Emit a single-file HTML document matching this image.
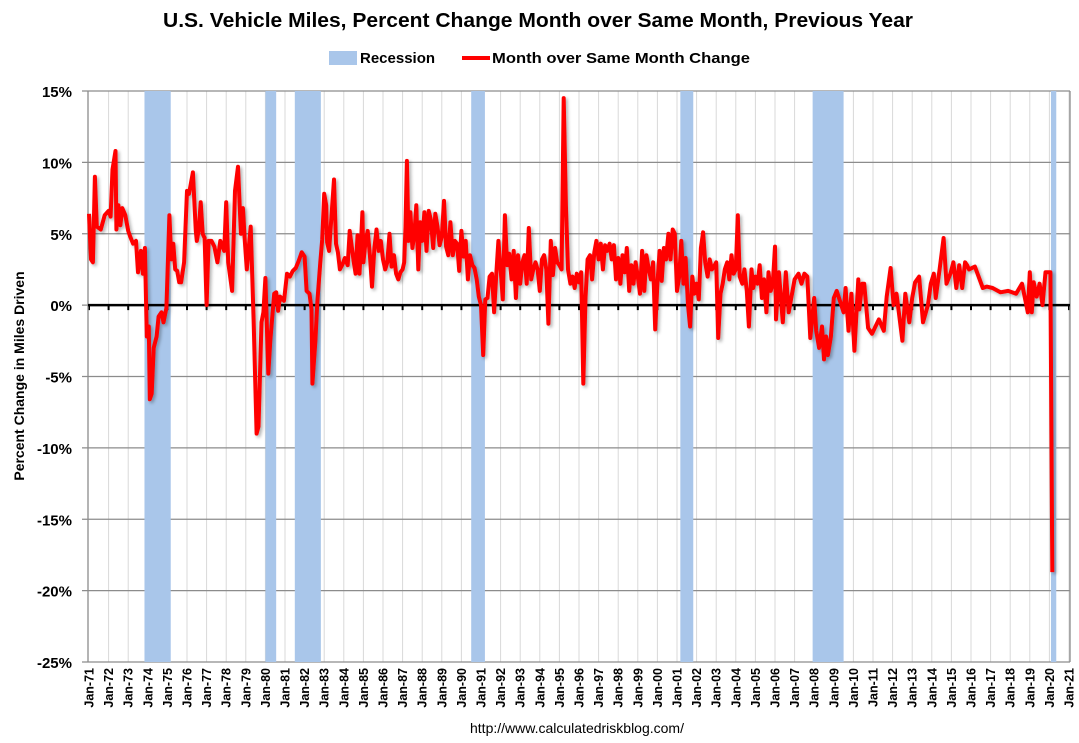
<!DOCTYPE html>
<html><head><meta charset="utf-8"><style>
body{margin:0;background:#fff;}
svg{display:block;font-family:"Liberation Sans",Arial,sans-serif;}
</style></head><body>
<svg id="chart" width="1079" height="743" viewBox="0 0 1079 743">
<defs><filter id="sh" x="-5%" y="-5%" width="110%" height="110%"><feDropShadow dx="2" dy="2" stdDeviation="1.5" flood-color="#000" flood-opacity="0.3"/></filter></defs>
<text x="538" y="27" text-anchor="middle" font-size="20" font-weight="bold" textLength="750" lengthAdjust="spacingAndGlyphs">U.S. Vehicle Miles,  Percent Change Month over Same Month, Previous Year</text>
<g>
<rect x="329" y="51" width="28" height="14" fill="#a9c6ea"/>
<text x="360" y="63" font-size="15" font-weight="bold">Recession</text>
<line x1="462" y1="58" x2="490" y2="58" stroke="#f00" stroke-width="4"/>
<text x="492" y="63" font-size="15" font-weight="bold" textLength="258" lengthAdjust="spacingAndGlyphs">Month over Same Month Change</text>
</g>
<g id="grid"></g><g id="rec"></g><g id="axes"></g><g id="series"></g>
<text transform="translate(24,376) rotate(-90)" text-anchor="middle" font-size="14" font-weight="bold">Percent Change in Miles Driven</text>
<text x="577" y="733" text-anchor="middle" font-size="14">http://www.calculatedriskblog.com/</text>
</svg>
<script>
const yTicks=[15,10,5,0,-5,-10,-15,-20,-25];
const yearLabels=[71,72,73,74,75,76,77,78,79,80,81,82,83,84,85,86,87,88,89,90,91,92,93,94,95,96,97,98,99,0,1,2,3,4,5,6,7,8,9,10,11,12,13,14,15,16,17,18,19,20,21];
const recStart=[1973.83,1980.0,1981.5,1990.5,2001.17,2007.92,2020.08];
const recEnd=[1975.17,1980.55,1982.83,1991.2,2001.83,2009.5,2020.35];
const dates=[1971.0,1971.1,1971.2,1971.3,1971.4,1971.6,1971.8,1972.0,1972.1,1972.2,1972.35,1972.4,1972.5,1972.6,1972.7,1972.85,1973.0,1973.1,1973.25,1973.4,1973.5,1973.65,1973.75,1973.85,1973.95,1974.05,1974.1,1974.2,1974.3,1974.45,1974.55,1974.7,1974.8,1974.95,1975.1,1975.2,1975.3,1975.4,1975.5,1975.6,1975.7,1975.85,1976.0,1976.1,1976.3,1976.45,1976.5,1976.6,1976.7,1976.8,1976.9,1977.0,1977.1,1977.25,1977.4,1977.55,1977.7,1977.9,1978.0,1978.1,1978.3,1978.45,1978.6,1978.75,1978.85,1978.95,1979.05,1979.25,1979.4,1979.55,1979.65,1979.8,1979.9,1980.0,1980.15,1980.25,1980.45,1980.55,1980.65,1980.75,1980.95,1981.1,1981.25,1981.4,1981.55,1981.7,1981.85,1982.0,1982.1,1982.25,1982.35,1982.4,1982.55,1982.65,1982.8,1982.9,1983.0,1983.1,1983.15,1983.25,1983.5,1983.6,1983.7,1983.8,1983.95,1984.05,1984.2,1984.3,1984.5,1984.6,1984.7,1984.8,1984.95,
1985.0,1985.11,1985.22,1985.33,1985.44,1985.56,1985.67,1985.78,1985.89,1986.0,1986.11,1986.22,1986.33,1986.44,1986.56,1986.67,1986.78,1986.89,1987.0,1987.08,1987.15,1987.22,1987.3,1987.4,1987.5,1987.6,1987.7,1987.8,1987.9,1988.0,1988.11,1988.22,1988.33,1988.44,1988.56,1988.67,1988.78,1988.89,1989.0,1989.11,1989.22,1989.33,1989.44,1989.56,1989.67,1989.78,1989.89,1990.0,1990.11,1990.22,1990.33,1990.44,1990.56,1990.67,1990.78,1990.89,1991.0,1991.11,1991.22,1991.33,1991.44,1991.56,1991.67,1991.78,1991.89,1992.0,1992.11,1992.22,1992.33,1992.44,1992.56,1992.67,1992.78,1992.89,1993.0,1993.11,1993.22,1993.33,1993.44,1993.56,1993.67,1993.78,1993.89,1994.0,1994.11,1994.22,1994.33,1994.44,1994.56,1994.67,1994.78,1994.89,1995.0,1995.11,1995.22,1995.33,1995.44,1995.56,1995.67,1995.78,1995.89,1996.0,1996.11,1996.22,1996.33,1996.44,1996.56,1996.67,1996.78,1996.89,1997.0,1997.11,1997.22,1997.33,1997.44,1997.56,1997.67,1997.78,1997.89,1998.0,1998.11,1998.22,1998.33,1998.44,1998.56,1998.67,1998.78,1998.89,1999.0,1999.11,1999.22,1999.33,1999.44,1999.56,1999.67,1999.78,1999.89,2000.0,2000.11,2000.22,2000.33,2000.44,2000.56,2000.67,2000.78,2000.89,2001.0,2001.11,2001.22,2001.33,2001.44,2001.56,2001.67,2001.78,2001.89,2002.0,2002.11,2002.22,2002.33,2002.44,2002.56,2002.67,2002.78,2002.89,2003.0,2003.1,2003.22,2003.33,2003.44,2003.56,2003.67,2003.78,2003.89,2004.0,2004.1,2004.2,2004.33,2004.44,2004.56,2004.67,2004.8,2004.89,2005.0,2005.11,2005.22,2005.33,2005.44,2005.56,2005.67,2005.78,2005.89,
2006.0,2006.05,2006.2,2006.4,2006.55,2006.7,2007.0,2007.2,2007.35,2007.5,2007.65,2007.8,2008.0,2008.1,2008.25,2008.4,2008.5,2008.6,2008.7,2008.85,2009.0,2009.15,2009.5,2009.6,2009.75,2009.9,2010.05,2010.25,2010.3,2010.45,2010.55,2010.75,2010.95,2011.3,2011.55,2011.7,2011.9,2012.05,2012.2,2012.5,2012.65,2012.85,2013.0,2013.15,2013.35,2013.55,2013.8,2013.95,2014.1,2014.2,2014.4,2014.6,2014.75,2014.95,2015.1,2015.25,2015.4,2015.55,2015.7,2015.8,2015.9,2016.2,2016.6,2016.8,2017.1,2017.5,2017.9,2018.3,2018.6,2018.9,2019.0,2019.1,2019.2,2019.35,2019.5,2019.65,2019.8,2019.95,2020.05,2020.15,2020.2,2020.26];
const values=[6.4,3.2,3.0,9.0,5.5,5.3,6.3,6.6,6.2,9.5,10.8,5.3,7.0,5.6,6.8,6.3,5.2,4.8,4.3,4.5,2.3,3.8,2.2,4.0,-2.2,-1.5,-6.6,-6.2,-3.0,-2.2,-0.8,-0.5,-1.2,-0.2,6.3,3.2,4.3,2.5,2.4,1.6,1.6,3.0,8.0,7.8,9.3,5.2,4.5,5.3,7.2,5.0,4.7,0.0,4.5,4.5,4.1,3.0,4.5,3.8,7.2,3.0,1.0,8.0,9.7,5.0,6.8,4.5,2.5,5.5,-1.0,-9.0,-8.5,-1.2,-0.5,1.9,-4.8,-2.5,0.8,0.9,-0.4,0.6,0.3,2.2,2.0,2.4,2.6,3.1,3.7,3.4,1.0,0.8,-0.3,-5.5,-2.5,0.2,3.0,4.6,7.8,7.0,4.4,3.8,8.8,4.3,3.7,2.5,2.9,3.3,2.8,5.2,3.1,2.2,4.9,2.2,6.5,
3.0,4.5,5.2,3.5,1.3,4.0,5.3,3.8,4.5,3.2,2.5,3.0,5.0,2.7,3.5,2.2,1.8,2.3,2.5,3.0,5.5,10.1,4.5,6.5,4.0,5.0,7.0,2.5,5.8,4.5,6.5,3.8,6.6,6.0,4.0,6.4,5.5,4.2,4.8,7.3,4.1,3.5,5.8,3.5,4.5,4.3,2.4,5.2,3.4,4.5,1.8,3.5,2.8,2.6,1.8,0.6,0.0,-3.5,0.4,0.5,2.0,2.2,-0.5,2.2,4.5,2.5,0.4,6.3,2.8,3.6,1.8,3.8,0.5,3.5,1.5,3.0,3.5,1.5,5.4,1.8,2.5,3.0,2.5,1.0,3.2,3.5,2.5,-1.3,4.5,2.1,4.0,3.0,2.8,2.5,14.5,7.0,2.5,1.5,2.0,1.2,2.2,1.6,2.3,-5.5,0.5,3.2,3.5,1.8,3.7,4.5,3.2,4.3,2.5,4.2,3.8,4.3,3.2,4.2,1.8,3.3,1.5,3.5,2.3,4.0,1.0,2.8,1.5,3.0,2.0,0.8,3.8,1.0,3.5,2.5,1.8,3.0,-1.7,1.5,3.8,1.7,4.0,3.2,5.0,3.2,5.3,5.0,1.0,2.0,4.5,1.5,3.3,0.0,-1.5,2.0,0.8,1.5,0.4,4.0,5.1,3.0,2.0,3.2,2.5,2.7,3.0,-2.3,0.8,1.5,2.5,3.0,1.8,3.5,2.2,2.5,6.3,2.0,1.5,2.5,1.0,-1.5,2.5,1.2,2.0,1.5,2.8,0.5,1.8,-0.5,2.3,1.0,
1.5,4.1,-1.0,2.3,-1.2,2.3,-0.5,1.8,2.2,1.5,2.2,2.0,-2.3,0.5,-1.8,-3.0,-1.5,-3.8,-2.2,-3.5,-2.2,0.5,1.0,-0.5,1.2,-1.8,0.8,-3.2,1.8,-0.3,1.5,1.5,-1.6,-2.0,-1.0,-1.8,0.6,2.6,0.0,0.8,-2.5,0.8,-1.2,0.5,1.6,2.0,-1.2,0.0,1.5,2.2,0.5,2.5,4.7,1.5,2.2,3.0,1.2,2.8,1.2,3.0,2.8,2.5,2.7,1.2,1.3,1.2,0.9,1.0,0.8,1.5,-0.5,2.3,-0.5,1.6,0.6,1.5,0.0,2.3,2.3,2.3,-18.7];
const NS='http://www.w3.org/2000/svg';
const L=88,R=1070,T=91,B=662;
function xS(yr){return 89+(yr-1971)*19.6;}
function yS(v){return T+(15-v)*(B-T)/40;}
function mk(tag,attrs,parent){const e=document.createElementNS(NS,tag);for(const k in attrs)e.setAttribute(k,attrs[k]);parent.appendChild(e);return e;}
const grid=document.getElementById('grid'),rec=document.getElementById('rec'),axes=document.getElementById('axes'),series=document.getElementById('series');
yearLabels.forEach((y,i)=>{
  const x=xS(1971+i);
  if(x<=R&&i>0){const g=mk('line',{x1:x,y1:T,x2:x,y2:B,stroke:'#d9d9d9','stroke-width':1},grid);
  
  }
  if(x<=R){const tk=mk('line',{x1:x,y1:yS(0),x2:x,y2:yS(0)+5,stroke:'#000','stroke-width':2},axes);
  
  }
  const t=mk('text',{transform:`translate(${x+4.5},668) rotate(-90)`,'text-anchor':'end','font-size':12.5,'font-weight':'bold'},axes);
  t.textContent='Jan-'+String(y).padStart(2,'0');
  
  
});
yTicks.forEach(v=>{
  const y=yS(v);
  const g=mk('line',{x1:L-6,y1:y,x2:R,y2:y,stroke:'#8c8c8c','stroke-width':1.3},grid);
  
  
  const t=mk('text',{x:72,y:y+6,'text-anchor':'end','font-size':15,'font-weight':'bold'},axes);
  t.textContent=v+'%';
  
  
});
recStart.forEach((s,i)=>{
  const r=mk('rect',{x:xS(s),y:T,width:xS(recEnd[i])-xS(s),height:B-T,fill:'#a9c6ea'},rec);
  
  
});
const ax=mk('line',{x1:L,y1:T,x2:L,y2:B,stroke:'#8c8c8c','stroke-width':1.3},axes);


const rb=mk('line',{x1:R,y1:T,x2:R,y2:B,stroke:'#8c8c8c','stroke-width':1.3},axes);


const zl=mk('line',{x1:L,y1:yS(0),x2:R,y2:yS(0),stroke:'#000','stroke-width':2.5},axes);


const pts=dates.map((d,i)=>xS(d).toFixed(1)+','+yS(values[i]).toFixed(1)).join(' ');
const pl=mk('polyline',{points:pts,fill:'none',stroke:'#ff0000','stroke-width':4,'stroke-linejoin':'round',filter:'url(#sh)'},series);


</script>
</body></html>
